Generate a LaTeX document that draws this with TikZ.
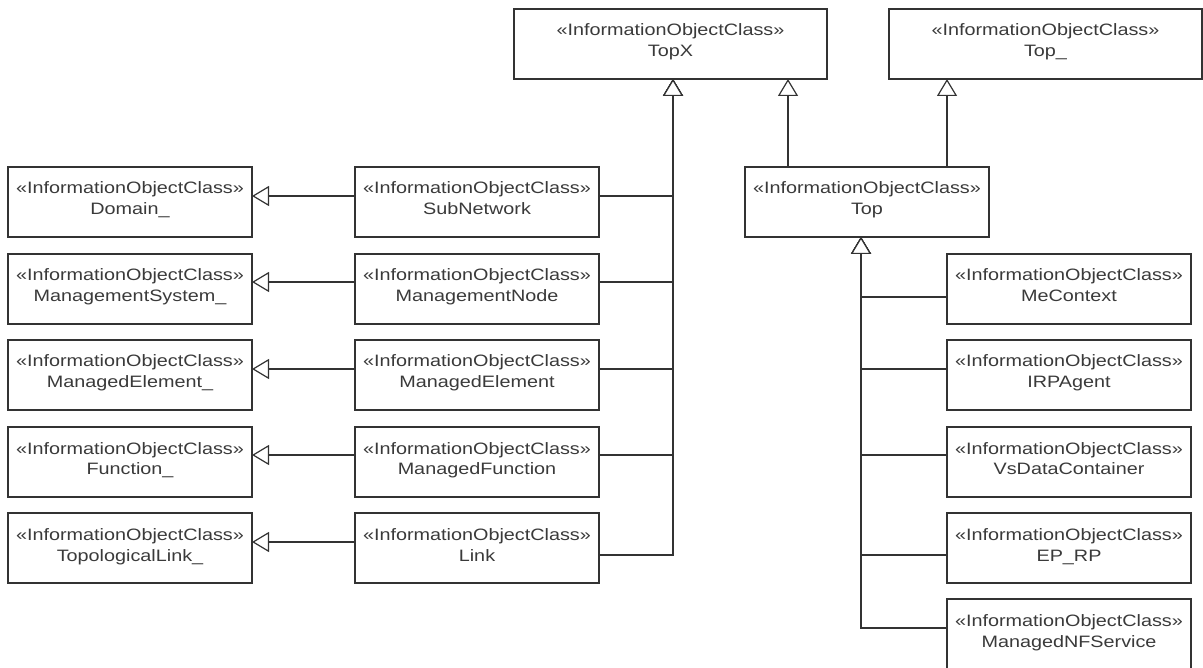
\documentclass[tikz,border=0pt]{standalone}
\usepackage{fontspec}
\setmainfont[FakeStretch=1.2]{Liberation Sans}
\usetikzlibrary{arrows.meta,calc}
\definecolor{linec}{HTML}{333333}
\definecolor{txtc}{HTML}{3A3A3A}
\tikzset{
  box/.style={draw=linec, line width=1.3pt, fill=white, minimum height=70pt, inner sep=0pt, outer sep=0pt, anchor=north west},
  txt/.style={text=txtc, inner sep=0pt, anchor=base, font=\fontsize{16.5}{21}\selectfont},
  gen/.style={draw=linec, line width=1.2pt, -{Triangle[length=17pt, width=20pt, fill=white, line width=1.2pt]}},
}
\newcommand\iocbox[5]{%
  \node[box, minimum width=#4pt] (#1) at (#2,#3) {};
  \node[txt] (#1s) at ($(#1.north)+(0,27)$) {«InformationObjectClass»};
  \node[txt] (#1n) at ($(#1.north)+(0,48)$) {#5};
}
\begin{document}
\begin{tikzpicture}[x=1pt,y=-1pt]
\useasboundingbox (0,0) rectangle (1203,668);
% top boxes
\iocbox{topx}{514}{9}{313}{TopX}
\iocbox{topu}{889}{9}{313}{Top\_}
\iocbox{top}{745}{167}{244}{Top}
% left column
\iocbox{dom}{8}{167}{244}{Domain\_}
\iocbox{mss}{8}{254}{244}{ManagementSystem\_}
\iocbox{mee}{8}{340}{244}{ManagedElement\_}
\iocbox{fun}{8}{427}{244}{Function\_}
\iocbox{tpl}{8}{513}{244}{TopologicalLink\_}
% middle column
\iocbox{sub}{355}{167}{244}{SubNetwork}
\iocbox{mgn}{355}{254}{244}{ManagementNode}
\iocbox{mel}{355}{340}{244}{ManagedElement}
\iocbox{mfn}{355}{427}{244}{ManagedFunction}
\iocbox{lnk}{355}{513}{244}{Link}
% right column
\iocbox{mec}{947}{254}{244}{MeContext}
\iocbox{irp}{947}{340}{244}{IRPAgent}
\iocbox{vsd}{947}{427}{244}{VsDataContainer}
\iocbox{eprp}{947}{513}{244}{EP\_RP}
\iocbox{mnf}{947}{599}{244}{ManagedNFService}
% left generalizations
\draw[gen] ($(sub.west)+(0,-6)$) -- ($(dom.east)+(0,-6)$);
\draw[gen] ($(mgn.west)+(0,-7)$) -- ($(mss.east)+(0,-7)$);
\draw[gen] ($(mel.west)+(0,-6)$) -- ($(mee.east)+(0,-6)$);
\draw[gen] ($(mfn.west)+(0,-7)$) -- ($(fun.east)+(0,-7)$);
\draw[gen] ($(lnk.west)+(0,-6)$) -- ($(tpl.east)+(0,-6)$);
% middle to TopX
\draw[gen] ($(sub.east)+(0,-6)$) -| ($(topx.south)+(2.5,0)$);
\draw[gen] ($(mgn.east)+(0,-7)$) -| ($(topx.south)+(2.5,0)$);
\draw[gen] ($(mel.east)+(0,-6)$) -| ($(topx.south)+(2.5,0)$);
\draw[gen] ($(mfn.east)+(0,-7)$) -| ($(topx.south)+(2.5,0)$);
\draw[gen] ($(lnk.east)+(0,7)$) -| ($(topx.south)+(2.5,0)$);
% Top to TopX and Top_
\coordinate (a1) at ($(top.north west)+(43,0)$);
\coordinate (a2) at ($(top.north west)+(202,0)$);
\draw[gen] (a1) -- (a1 |- topx.south);
\draw[gen] (a2) -- (a2 |- topu.south);
% right column to Top
\draw[gen] ($(mec.west)+(0,8)$) -| ($(top.south)+(-6,0)$);
\draw[gen] ($(irp.west)+(0,-6)$) -| ($(top.south)+(-6,0)$);
\draw[gen] ($(vsd.west)+(0,-7)$) -| ($(top.south)+(-6,0)$);
\draw[gen] ($(eprp.west)+(0,7)$) -| ($(top.south)+(-6,0)$);
\draw[gen] ($(mnf.west)+(0,-6)$) -| ($(top.south)+(-6,0)$);
\end{tikzpicture}
\end{document}
